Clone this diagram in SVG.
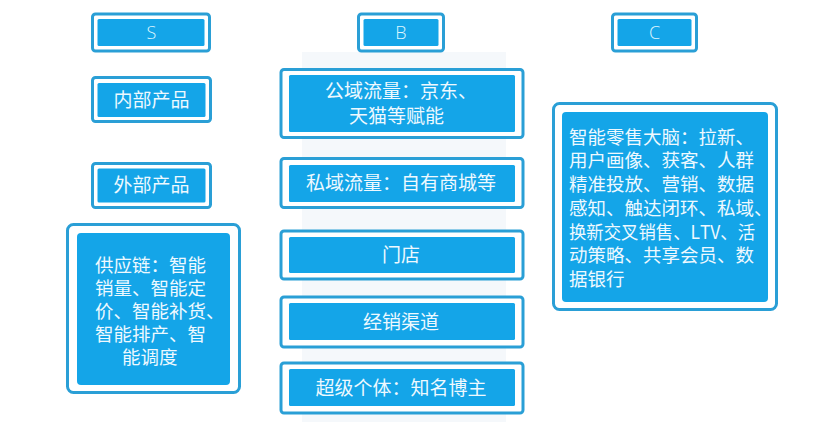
<svg xmlns="http://www.w3.org/2000/svg" width="831" height="422" viewBox="0 0 831 422">
<style>
.o{fill:#fff;stroke:#2a9fd6;stroke-width:3}
.i{fill:#14a5e8}
.t{fill:#eef9ff;font-family:"Noto Sans CJK SC","Noto Sans",sans-serif;font-size:19px}
.s{font-size:18.5px}
.m{text-anchor:middle}
.l{fill:#dff6ff;font-family:"Open Sans","Liberation Sans",sans-serif;font-size:18px;font-weight:300;text-anchor:middle}
</style>
<rect x="0" y="0" width="831" height="422" fill="#fff"/>
<rect x="302" y="52" width="204" height="370" fill="#f5f8fb"/>
<g id="connectors"></g>
<g id="S">
<rect class="o" x="92.5" y="14" width="117" height="37" rx="3"/>
<rect class="i" x="97.5" y="19" width="107" height="27" rx="1.5"/>
<text class="l" x="151.5" y="38.5">S</text>
</g>
<g id="B">
<rect class="o" x="358.5" y="14" width="85" height="37" rx="3"/>
<rect class="i" x="363.5" y="19" width="75" height="27" rx="1.5"/>
<text class="l" x="401" y="38.5">B</text>
</g>
<g id="C">
<rect class="o" x="612.5" y="14" width="84" height="37" rx="3"/>
<rect class="i" x="617.5" y="19" width="74" height="27" rx="1.5"/>
<text class="l" x="654.5" y="38.5">C</text>
</g>
<g id="inner-product">
<rect class="o" x="92.5" y="77.5" width="118" height="44" rx="3"/>
<rect class="i" x="97.5" y="83" width="108" height="34" rx="1.5"/>
<text class="t m" x="151.5" y="107">内部产品</text>
</g>
<g id="outer-product">
<rect class="o" x="92.5" y="163.5" width="118" height="44" rx="3"/>
<rect class="i" x="97.5" y="168.5" width="108" height="34" rx="1.5"/>
<text class="t m" x="151.5" y="192">外部产品</text>
</g>
<g id="supply-chain">
<rect class="o" x="67.5" y="224.5" width="172" height="168" rx="6"/>
<rect class="i" x="77" y="233" width="153" height="152" rx="4"/>
<text class="t s" x="95" y="271.5">供应链：智能</text>
<text class="t s" x="95" y="294.5">销量、智能定</text>
<text class="t s" x="95" y="317.5">价、智能补货、</text>
<text class="t s" x="95" y="340.5">智能排产、智</text>
<text class="t s" x="122" y="363.5">能调度</text>
</g>
<g id="public-traffic">
<rect class="o" x="281" y="69.5" width="242" height="68" rx="3"/>
<rect class="i" x="289" y="75" width="226" height="57" rx="1.5"/>
<text class="t" x="325" y="98">公域流量：京东、</text>
<text class="t" x="349" y="123">天猫等赋能</text>
</g>
<g id="private-traffic">
<rect class="o" x="281" y="158.5" width="242" height="49" rx="3"/>
<rect class="i" x="289" y="165" width="226" height="37" rx="1.5"/>
<text class="t m" x="401" y="190">私域流量：自有商城等</text>
</g>
<g id="store">
<rect class="o" x="281" y="231" width="242" height="48" rx="3"/>
<rect class="i" x="289" y="237" width="226" height="36" rx="1.5"/>
<text class="t m" x="401" y="262">门店</text>
</g>
<g id="distribution">
<rect class="o" x="281" y="297" width="242" height="50" rx="3"/>
<rect class="i" x="289" y="303" width="226" height="37" rx="1.5"/>
<text class="t m" x="401" y="329">经销渠道</text>
</g>
<g id="influencer">
<rect class="o" x="281" y="363" width="242" height="50" rx="3"/>
<rect class="i" x="289" y="369" width="226" height="37" rx="1.5"/>
<text class="t m" x="401" y="395">超级个体：知名博主</text>
</g>
<g id="smart-retail">
<rect class="o" x="553.5" y="103.5" width="223" height="206" rx="6"/>
<rect class="i" x="562" y="112" width="206" height="190" rx="4"/>
<text class="t s" x="569" y="143.5">智能零售大脑：拉新、</text>
<text class="t s" x="569" y="167.3">用户画像、获客、人群</text>
<text class="t s" x="569" y="191">精准投放、营销、数据</text>
<text class="t s" x="569" y="214.8">感知、触达闭环、私域、</text>
<text class="t s" x="569" y="238.5" textLength="186" lengthAdjust="spacingAndGlyphs">换新交叉销售、LTV、活</text>
<text class="t s" x="569" y="262.3">动策略、共享会员、数</text>
<text class="t s" x="569" y="286">据银行</text>
</g>
</svg>
